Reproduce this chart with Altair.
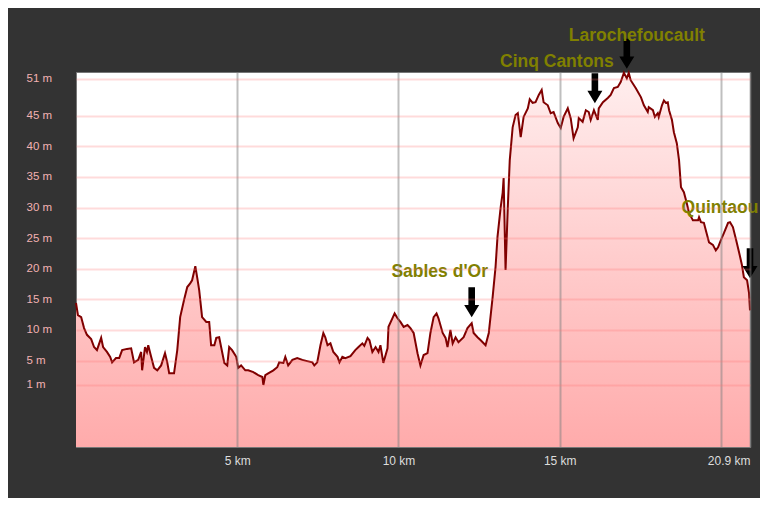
import altair as alt
import pandas as pd

# ---- elevation profile (distance in km, elevation in m) ----
km = [
    0.00, 0.06, 0.16, 0.25, 0.34, 0.47, 0.56, 0.65, 0.78, 0.84,
    0.96, 1.06, 1.12, 1.24, 1.34, 1.43, 1.58, 1.71, 1.80, 1.93,
    2.02, 2.05, 2.14, 2.20, 2.24, 2.33, 2.42, 2.52, 2.64, 2.76,
    2.83, 2.89, 3.04, 3.14, 3.23, 3.35, 3.45, 3.54, 3.60, 3.70,
    3.76, 3.82, 3.91, 4.04, 4.13, 4.19, 4.29, 4.35, 4.44, 4.50,
    4.60, 4.69, 4.75, 4.84, 4.97, 5.03, 5.12, 5.25, 5.34, 5.50,
    5.65, 5.78, 5.81, 5.87, 5.96, 6.12, 6.24, 6.30, 6.43, 6.49,
    6.58, 6.71, 6.86, 7.02, 7.17, 7.33, 7.39, 7.48, 7.58, 7.67,
    7.73, 7.80, 7.89, 7.98, 8.11, 8.17, 8.26, 8.35, 8.51, 8.66,
    8.76, 8.88, 8.94, 9.04, 9.10, 9.19, 9.29, 9.38, 9.44, 9.50,
    9.53, 9.66, 9.69, 9.81, 9.88, 9.97, 10.06, 10.16, 10.28, 10.37,
    10.47, 10.59, 10.68, 10.78, 10.90, 10.99, 11.09, 11.18, 11.24, 11.37,
    11.46, 11.52, 11.61, 11.68, 11.77, 11.86, 12.02, 12.14, 12.27, 12.33,
    12.45, 12.55, 12.70, 12.80, 12.92, 13.01, 13.07, 13.17, 13.23, 13.26,
    13.32, 13.39, 13.45, 13.54, 13.63, 13.70, 13.79, 13.88, 14.01, 14.07,
    14.16, 14.25, 14.35, 14.44, 14.50, 14.63, 14.72, 14.81, 14.94, 15.03,
    15.12, 15.25, 15.34, 15.43, 15.56, 15.59, 15.71, 15.81, 15.90, 15.96,
    16.06, 16.18, 16.21, 16.34, 16.49, 16.58, 16.68, 16.80, 16.89, 16.99,
    17.08, 17.14, 17.20, 17.36, 17.52, 17.61, 17.73, 17.76, 17.89, 17.95,
    18.04, 18.07, 18.17, 18.23, 18.29, 18.35, 18.39, 18.48, 18.54, 18.63,
    18.70, 18.76, 18.85, 18.94, 19.01, 19.13, 19.29, 19.32, 19.38, 19.47,
    19.53, 19.63, 19.75, 19.84, 19.91, 20.00, 20.09, 20.22, 20.28, 20.37,
    20.47, 20.56, 20.65, 20.71, 20.81, 20.87, 20.90,
]
elevation = [
    14.4, 12.4, 12.1, 10.3, 9.2, 8.5, 7.2, 6.7, 8.7, 7.2,
    6.4, 5.6, 4.7, 5.4, 5.4, 6.7, 6.9, 7.0, 4.7, 5.1,
    6.4, 3.4, 7.2, 6.4, 7.5, 5.6, 3.8, 3.4, 4.2, 6.2,
    4.7, 2.9, 2.9, 6.7, 12.1, 14.9, 17.0, 17.6, 18.1, 20.4,
    18.5, 16.5, 12.1, 11.3, 11.3, 7.5, 7.5, 8.7, 8.8, 7.2,
    4.6, 4.2, 7.2, 6.7, 5.6, 3.8, 4.2, 3.4, 3.4, 3.1,
    2.6, 2.3, 1.0, 2.6, 2.9, 3.4, 3.9, 4.7, 4.6, 5.6,
    4.2, 5.1, 5.4, 5.1, 4.9, 4.7, 4.2, 4.7, 7.5, 9.5,
    8.8, 7.5, 7.8, 6.4, 5.6, 4.7, 5.6, 5.4, 5.7, 6.7,
    7.2, 7.8, 7.4, 8.7, 8.3, 6.4, 7.2, 6.4, 7.5, 5.6,
    4.6, 7.0, 10.5, 11.9, 12.7, 11.9, 11.3, 10.5, 10.8, 10.3,
    9.5, 6.2, 4.2, 5.9, 6.2, 9.5, 12.1, 12.7, 11.9, 9.5,
    8.7, 7.2, 10.0, 7.8, 8.8, 8.0, 8.8, 10.3, 11.1, 9.5,
    8.8, 8.3, 7.5, 9.5, 15.4, 20.3, 25.2, 30.1, 32.4, 34.8,
    19.8, 30.1, 37.7, 43.1, 45.1, 45.4, 41.5, 44.8, 46.2, 47.7,
    47.1, 47.2, 48.4, 49.2, 47.2, 46.7, 45.4, 45.6, 43.8, 43.0,
    44.8, 46.2, 44.6, 41.3, 43.1, 44.6, 44.0, 45.9, 45.6, 44.3,
    45.9, 44.3, 46.2, 47.2, 47.9, 48.4, 49.5, 49.7, 50.5, 52.0,
    51.1, 52.0, 50.8, 49.5, 48.0, 46.7, 45.6, 46.4, 45.9, 44.8,
    45.4, 44.8, 46.7, 47.5, 47.1, 47.2, 45.9, 44.3, 42.3, 40.5,
    37.7, 33.3, 32.5, 30.7, 29.1, 27.9, 27.9, 28.4, 27.6, 27.5,
    26.3, 24.3, 23.9, 23.0, 23.5, 24.7, 25.8, 27.5, 27.6, 26.8,
    24.7, 22.7, 20.6, 18.6, 18.1, 16.0, 13.2,
]

# ---- axis ticks ----
y_ticks = [1, 5, 10, 15, 20, 25, 30, 35, 40, 45, 51]
x_ticks = [5, 10, 15, 20, 20.9]

# ---- place annotations ----
place_names = ["Sables d'Or", "Cinq Cantons", "Larochefoucault", "Quintaou"]
place_km = [12.27, 16.09, 17.08, 20.90]
place_elev = [11.4, 46.4, 52.0, 17.8]

# label offsets (pixels) relative to the marked point
label_dx = [-32, -38, 10, -30]
label_dy = [-44, -40, -32, -69]

Y_DOMAIN = [-9.13, 52.14]
X_DOMAIN = [0, 20.9]
W, H = 674, 375

df = pd.DataFrame({"km": km, "elev": elevation})
places = pd.DataFrame({"name": place_names, "km": place_km, "elev": place_elev})

x_scale = alt.Scale(domain=X_DOMAIN, nice=False, zero=False)
y_scale = alt.Scale(domain=Y_DOMAIN, nice=False, zero=False)

x_axis = alt.Axis(
    values=x_ticks,
    labelExpr="datum.value == 20 ? '' : datum.value + ' km'",
    grid=True, gridColor="#808080", gridOpacity=0.5, gridWidth=2,
    ticks=False, tickSize=0, domain=False,
    labelColor="#dddddd", labelFont="Liberation Sans", labelFontSize=12,
    labelPadding=8,
    labelAlign={"condition": {"test": "datum.value > 20.5", "value": "right"}, "value": "center"},
    labelOverlap=False, labelBound=False, labelFlush=False,
    title=None, zindex=1,
)
y_axis = alt.Axis(
    values=y_ticks,
    labelExpr="datum.value + ' m'",
    grid=True, gridColor="#ff7070", gridOpacity=0.25, gridWidth=2,
    ticks=False, tickSize=0, domain=False,
    labelAlign="left", labelBaseline="middle", labelPadding=50,
    labelColor="#f2b2b2", labelFont="Liberation Sans", labelFontSize=11.5,
    labelOverlap=False, labelBound=False,
    title=None, zindex=1,
)


def xe():
    return alt.X("km:Q", scale=x_scale, axis=x_axis)


def ye():
    return alt.Y("elev:Q", scale=y_scale, axis=y_axis)


gradient = alt.Gradient(
    gradient="linear", x1=0, x2=0, y1=0, y2=1,
    stops=[alt.GradientStop(color="#ffeeee", offset=0),
           alt.GradientStop(color="#ffabab", offset=1)],
)

area = alt.Chart(df).mark_area(color=gradient, interpolate="linear").encode(
    x=xe(), y=ye(), y2=alt.datum(Y_DOMAIN[0])
)

line = alt.Chart(df).mark_line(color="#800000", strokeWidth=2).encode(
    x=xe(), y=ye()
)

arrow_path = "M-0.22,-1 L0.22,-1 L0.22,0.18 L0.5,0.18 L0,1 L-0.5,0.18 L-0.22,0.18 Z"
arrows = alt.Chart(places).mark_point(
    shape=arrow_path, size=900, filled=True, color="#000000", opacity=1,
    strokeWidth=0, yOffset=-19,
).encode(x=xe(), y=ye())

labels = []
for i, name in enumerate(place_names):
    labels.append(
        alt.Chart(places).transform_filter(alt.datum.name == name).mark_text(
            font="Liberation Sans", fontWeight="bold", fontSize=17.5,
            color="#808000", align="center", baseline="alphabetic",
            dx=label_dx[i], dy=label_dy[i],
        ).encode(x=xe(), y=ye(), text="name:N")
    )

chart = alt.layer(area, line, arrows, *labels).properties(
    width=W, height=H,
    padding={"left": 68, "top": 64, "right": 10, "bottom": 51},
    autosize=alt.AutoSizeParams(type="none"),
    background="#333333",
).configure_view(
    fill="#ffffff", stroke="#777777", strokeWidth=1
)

chart.save("out.html", embed_options={"renderer": "svg", "actions": False})
